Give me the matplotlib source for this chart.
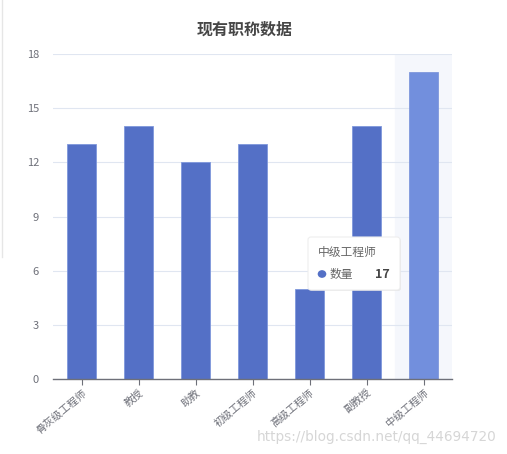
import matplotlib.pyplot as plt
from matplotlib.patches import FancyBboxPatch, Circle
from matplotlib.lines import Line2D

plt.rcParams['font.family'] = ['Noto Sans CJK SC', 'DejaVu Sans']

categories = ['骨灰级工程师', '教授', '助教', '初级工程师', '高级工程师', '副教授', '中级工程师']
counts = [13, 14, 12, 13, 5, 14, 17]
series_name = '数量'
title = '现有职称数据'
yticks = [0, 3, 6, 9, 12, 15, 18]
hover_idx = 6

W, H = 507, 454
fig = plt.figure(figsize=(W / 100, H / 100), dpi=100)


def fx(x):
    return x / W


def fy(y):
    return 1 - y / H


ax = fig.add_axes([fx(53), fy(379), fx(452) - fx(53), fy(54) - fy(379)])

# hover shadow band
ax.axvspan(hover_idx - 0.5, hover_idx + 0.5, color='#f5f7fc', zorder=0)

colors = ['#5470c6'] * len(categories)
colors[hover_idx] = '#728fdd'
ax.bar(range(len(categories)), counts, width=0.5, color=colors,
       edgecolor='#7f97dc', linewidth=0.6, zorder=2)

ax.set_xlim(-0.5, len(categories) - 0.5)
ax.set_ylim(0, 18)
ax.set_yticks(yticks)
ax.yaxis.grid(True, color='#e0e6f1', linewidth=0.8, zorder=1)
ax.set_axisbelow(True)
for s in ['top', 'right', 'left']:
    ax.spines[s].set_visible(False)
ax.spines['bottom'].set_color('#6e7079')
ax.spines['bottom'].set_linewidth(1)
ax.tick_params(axis='y', length=0, labelsize=8, labelcolor='#6e7079', pad=10)
ax.tick_params(axis='x', length=4, color='#6e7079', labelsize=7.5, labelcolor='#6e7079', pad=2)
ax.set_xticks(range(len(categories)))
ax.set_xticklabels(categories, rotation=40, ha='right', rotation_mode='anchor')

fig.text(fx(245), fy(30), title, ha='center', va='center', fontsize=11.5,
         fontweight='bold', color='#464646')

# faint left border of screenshot
fig.add_artist(Line2D([fx(2), fx(2)], [fy(0), fy(257)], color='#e6e6e6', linewidth=1))

# tooltip
shadow = FancyBboxPatch((fx(309), fy(291)), fx(92), fy(237) - fy(290),
                        boxstyle='round,pad=0,rounding_size=0.006',
                        transform=fig.transFigure, facecolor='#dddddd',
                        edgecolor='none', alpha=0.6, zorder=9)
fig.add_artist(shadow)
box = FancyBboxPatch((fx(308), fy(290)), fx(92), fy(237) - fy(290),
                     boxstyle='round,pad=0,rounding_size=0.006',
                     transform=fig.transFigure, facecolor='white',
                     edgecolor='#eeeeee', linewidth=0.8, zorder=10)
fig.add_artist(box)
fig.text(fx(318), fy(252), categories[hover_idx], ha='left', va='center',
         fontsize=8.5, color='#666666', zorder=11)
fig.add_artist(Circle((fx(322), fy(274)), 0.0085, transform=fig.transFigure,
                      facecolor='#5470c6', edgecolor='none', zorder=11))
fig.text(fx(330), fy(274), series_name, ha='left', va='center',
         fontsize=8.5, color='#666666', zorder=11)
fig.text(fx(390), fy(274), str(counts[hover_idx]), ha='right', va='center',
         fontsize=9, fontweight='bold', color='#464646', zorder=11)

# watermark
fig.text(fx(497), fy(437), 'https://blog.csdn.net/qq_44694720', ha='right', va='center',
         fontsize=9.8, color='#d6d6d6', family=['DejaVu Sans'])

fig.savefig('out.png', dpi=100)
